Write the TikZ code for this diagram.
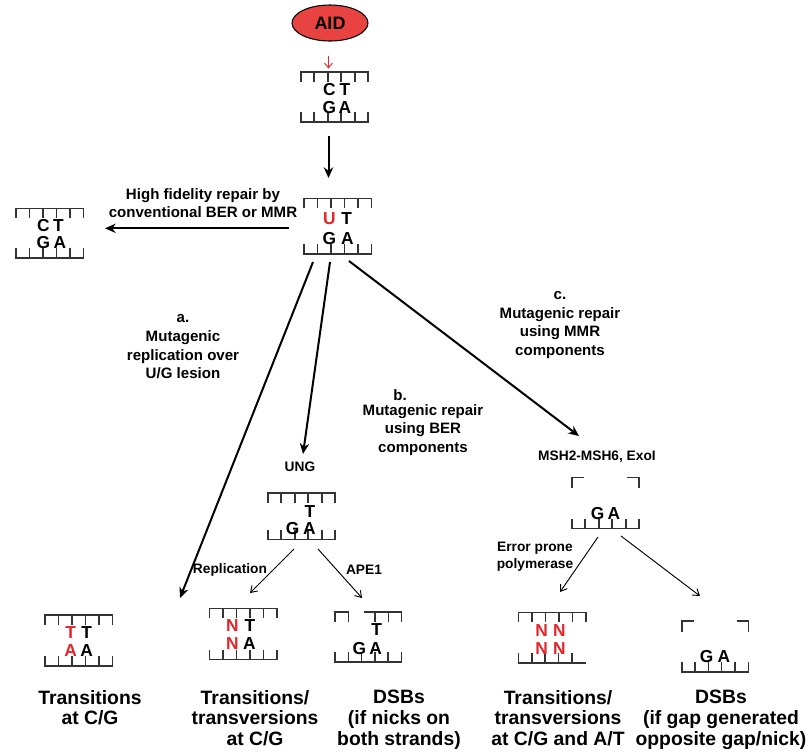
\documentclass[tikz,border=0pt]{standalone}
\usepackage{fontspec}
\setmainfont{Liberation Sans}
\usetikzlibrary{arrows.meta,shapes.geometric}
\definecolor{dnared}{HTML}{E3262B}
\definecolor{aidred}{HTML}{E84340}
\definecolor{strandgray}{HTML}{333333}
\tikzset{
  strand/.style={draw=strandgray, line width=1.2pt, line cap=rect},
  letter/.style={font=\fontsize{13}{13}\selectfont\bfseries, inner sep=0pt},
  redletter/.style={letter, text=dnared},
  biglabel/.style={font=\fontsize{14.5}{15.5}\selectfont\bfseries, align=center, anchor=north, inner sep=0pt},
  midlabel/.style={font=\fontsize{11.3}{14}\selectfont\bfseries, align=center, inner sep=0pt},
  smalllabel/.style={font=\fontsize{10.3}{12.8}\selectfont\bfseries, align=center, inner sep=0pt},
  mainarrow/.style={draw=black, line width=1.5pt, -{Stealth[length=8pt,width=7pt]}},
  thinarrow/.style={draw=black, line width=0.7pt, -{Straight Barb[length=4.5pt,width=6pt]}},
}
\newcommand{\tstrand}[2]{\draw[strand] (#1,#2) -- ++(67.5,0);
  \foreach \k in {0,...,5}{\draw[strand] ({#1+\k*13.5},#2) -- ++(0,9);}}
\newcommand{\bstrand}[2]{\draw[strand] (#1,#2) -- ++(67.5,0);
  \foreach \k in {0,...,5}{\draw[strand] ({#1+\k*13.5},#2) -- ++(0,-9);}}
\begin{document}
\begin{tikzpicture}[x=0.75pt,y=-0.75pt]
\useasboundingbox (0,0) rectangle (808,754);

% AID
\node[ellipse, draw=black, line width=0.8pt, fill=aidred, minimum width=57pt, minimum height=27pt,
      inner sep=0pt, font=\fontsize{13.5}{13.5}\selectfont\bfseries] (aid) at (330,23) {AID};
\coordinate (redtop) at (328.5,56);
\coordinate (redbot) at (328.5,68.5);
\draw[draw=dnared, line width=0.7pt, -{Straight Barb[length=3.5pt,width=6pt]}] (redtop) -- (redbot);

% DNA 1
\tstrand{300.7}{72}
\bstrand{300.7}{122}
\node[letter] (d1c) at (329.3,90) {C};
\node[letter] (d1t) at (345,90) {T};
\node[letter] (d1g) at (329.3,108) {G};
\node[letter] (d1a) at (345,108) {A};
\coordinate (d1out) at (328.5,136);
\coordinate (d2in) at (328.5,178);
\draw[mainarrow] (d1out) -- (d2in);

% DNA 2
\tstrand{304}{198.3}
\bstrand{304}{254}
\node[redletter] (d2u) at (329.3,219) {U};
\node[letter] (d2t) at (346.7,219) {T};
\node[letter] (d2g) at (329.3,239) {G};
\node[letter] (d2a) at (347.5,239) {A};

% left high fidelity
\coordinate (hfstart) at (289,228.3);
\coordinate (hfend) at (105,228.3);
\draw[mainarrow] (hfstart) -- (hfend);
\node[midlabel] (hf) at (203,203) {High fidelity repair by\\conventional BER or MMR};
\tstrand{16}{208.3}
\bstrand{16}{258}
\node[letter] (lc) at (43.3,226) {C};
\node[letter] (lt) at (58.3,226) {T};
\node[letter] (lg) at (43.3,243) {G};
\node[letter] (la) at (60,243) {A};

% branch a
\coordinate (astart) at (313,262);
\coordinate (aend) at (180,598);
\draw[mainarrow] (astart) -- (aend);
\node[midlabel] (alab) at (183,347) {a.\\Mutagenic\\replication over\\U/G lesion};

% branch b
\coordinate (bstart) at (330,262);
\coordinate (bend) at (303,454);
\draw[mainarrow] (bstart) -- (bend);
\node[midlabel] (blabdot) at (400,395) {b.};
\node[midlabel] (blab) at (423,430) {Mutagenic repair\\using BER\\components};

% branch c
\coordinate (cstart) at (349,261);
\coordinate (cend) at (579,436);
\draw[mainarrow] (cstart) -- (cend);
\node[midlabel] (clab) at (560,325) {c.\\Mutagenic repair\\using MMR\\components};

% UNG
\node[smalllabel] (ung) at (300,467) {UNG};
\tstrand{267.7}{492.7}
\bstrand{267.7}{539.3}
\node[letter] (ut) at (310,511.7) {T};
\node[letter] (ug) at (292.7,528.3) {G};
\node[letter] (ua) at (309.3,528.3) {A};
\coordinate (ungl) at (294,549);
\coordinate (ntin) at (250,593);
\coordinate (ungr) at (318,549);
\coordinate (apin) at (362,598);
\draw[thinarrow] (ungl) -- (ntin);
\draw[thinarrow] (ungr) -- (apin);
\node[smalllabel] (repl) at (230,570) {Replication};
\node[smalllabel] (ape) at (364,570) {APE1};

% NT / NA
\tstrand{209.3}{608.3}
\bstrand{209.3}{659.3}
\node[redletter] (nn1) at (232.3,626) {N};
\node[letter] (nt1) at (250,626) {T};
\node[redletter] (nn2) at (232.3,643.3) {N};
\node[letter] (na2) at (249.3,643.3) {A};

% APE1 DNA
\draw[strand] (335,620.7) -- (335,611.7) -- (348.3,611.7) -- (348.3,620.7);
\draw[strand] (365,611.7) -- (401.5,611.7);
\foreach \xx in {375,388.3,401.5}{\draw[strand] (\xx,611.7) -- ++(0,9);}
\draw[strand] (335,661.7) -- (401.5,661.7);
\foreach \k in {0,...,5}{\draw[strand] ({335+\k*13.3},661.7) -- ++(0,-9);}
\node[letter] (apt) at (376.7,629.3) {T};
\node[letter] (apg) at (359.3,648.3) {G};
\node[letter] (apa) at (375.7,648.3) {A};

% TT / AA
\tstrand{45}{615}
\bstrand{45}{666}
\node[redletter] (tt1) at (70.7,632.7) {T};
\node[letter] (tt2) at (86.7,632.7) {T};
\node[redletter] (ta1) at (70.7,651) {A};
\node[letter] (ta2) at (86.7,651) {A};

% MSH2 branch
\node[smalllabel] (msh) at (597,457) {MSH2-MSH6, ExoI};
\draw[strand] (571.7,486.7) -- (571.7,477.3) -- (582.7,477.3);
\draw[strand] (627.3,477.3) -- (639,477.3) -- (639,486.7);
\bstrand{571.7}{528.3}
\node[letter] (mg) at (597.5,513.3) {G};
\node[letter] (ma) at (614,513.3) {A};
\coordinate (mshl) at (598,537);
\coordinate (nnin) at (560,592);
\coordinate (mshr) at (621,536);
\coordinate (gain) at (700,596);
\draw[thinarrow] (mshl) -- (nnin);
\draw[thinarrow] (mshr) -- (gain);
\node[smalllabel] (epp) at (535,556.5) {Error prone\\polymerase};

% NN / NN
\tstrand{518.3}{612.3}
\draw[strand] (518.3,662.7) -- (585,662.7);
\foreach \k in {0,...,4}{\draw[strand] ({518.3+\k*13.4},662.7) -- ++(0,-9);}
\node[redletter] (n11) at (541.7,630.7) {N};
\node[redletter] (n12) at (559.3,630.7) {N};
\node[redletter] (n21) at (541.7,648.3) {N};
\node[redletter] (n22) at (559.3,648.3) {N};

% right GA
\draw[strand] (681.7,630.7) -- (681.7,620.7) -- (692.7,620.7);
\draw[strand] (737.3,620.7) -- (748.3,620.7) -- (748.3,630.7);
\draw[strand] (681.7,671.7) -- (748.3,671.7);
\foreach \k in {0,...,5}{\draw[strand] ({681.7+\k*13.32},671.7) -- ++(0,-9);}
\node[letter] (rg) at (706.7,656.7) {G};
\node[letter] (ra) at (724,656.7) {A};

% bottom labels
\node[biglabel] (o1) at (90,690) {Transitions\\at C/G};
\node[biglabel] (o2) at (255,690) {Transitions/\\transversions\\at C/G};
\node[biglabel] (o3) at (399,690) {DSBs\\(if nicks on\\both strands)};
\node[biglabel] (o4) at (558,690) {Transitions/\\transversions\\at C/G and A/T};
\node[biglabel] (o5) at (721,690) {DSBs\\(if gap generated\\opposite gap/nick)};
\end{tikzpicture}
\end{document}
